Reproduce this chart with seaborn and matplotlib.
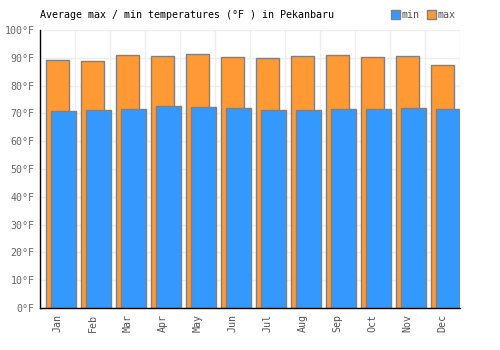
import matplotlib
matplotlib.use("Agg")
import matplotlib.pyplot as plt
import seaborn as sns
import pandas as pd
from matplotlib.patches import Patch

months = ["Jan", "Feb", "Mar", "Apr", "May", "Jun", "Jul", "Aug", "Sep", "Oct", "Nov", "Dec"]
max_temps = [89.1, 89.0, 91.0, 90.5, 91.2, 90.2, 89.8, 90.5, 91.0, 90.2, 90.5, 87.3]
min_temps = [70.9, 71.2, 71.6, 72.7, 72.3, 71.9, 71.2, 71.2, 71.5, 71.5, 71.8, 71.5]
y_ticks = [0, 10, 20, 30, 40, 50, 60, 70, 80, 90, 100]
y_labels = [f"{v}°F" for v in y_ticks]
title = "Average max / min temperatures (°F ) in Pekanbaru"

BLUE = "#3399FF"
ORANGE = "#FF9933"
EDGE = "#808080"
FONT = "DejaVu Sans Mono"

sns.set_style("white")
plt.rcParams["font.family"] = [FONT]

df = pd.DataFrame({"month": months, "max": max_temps, "min": min_temps})

fig = plt.figure(figsize=(5, 3.5), dpi=100)
ax = fig.add_axes([40 / 500, 42 / 350, 420 / 500, 278 / 350])

sns.barplot(data=df, x="month", y="max", color=ORANGE, saturation=1, width=0.666,
            edgecolor=EDGE, linewidth=1, ax=ax, zorder=2)
n_max = len(ax.patches)
sns.barplot(data=df, x="month", y="min", color=BLUE, saturation=1, width=0.706,
            edgecolor=EDGE, linewidth=1, ax=ax, zorder=3)
for p in ax.patches[n_max:]:
    p.set_x(p.get_x() + 0.167)

ax.set_xlim(-0.5, 11.5)
ax.set_ylim(0, 100)
ax.set_yticks(y_ticks)
ax.set_yticklabels(y_labels)
ax.set_xlabel("")
ax.set_ylabel("")

# grid lines at category boundaries and y ticks
for i in range(13):
    ax.axvline(i - 0.5, color="#eeeeee", lw=1, zorder=0)
for v in y_ticks:
    ax.axhline(v, color="#eeeeee", lw=1, zorder=0)

for s in ["top", "right"]:
    ax.spines[s].set_visible(False)
ax.spines["left"].set_color("black")
ax.spines["bottom"].set_color("black")
ax.spines["left"].set_linewidth(1)
ax.spines["bottom"].set_linewidth(1)
ax.spines["left"].set_zorder(5)
ax.spines["bottom"].set_zorder(5)

ax.tick_params(axis="both", length=0, labelsize=7.2, colors="#666666", pad=4)
ax.tick_params(axis="x", rotation=90, labelcolor="#555555")
for lab in ax.get_xticklabels():
    lab.set_fontfamily(FONT)
for lab in ax.get_yticklabels():
    lab.set_fontfamily(FONT)

fig.text(40 / 500, 1 - 15 / 350, title, fontsize=7.2, family=FONT, color="black",
         ha="left", va="center")

handles = [Patch(facecolor=BLUE, edgecolor=EDGE, label="min"),
           Patch(facecolor=ORANGE, edgecolor=EDGE, label="max")]
leg = fig.legend(handles=handles, loc="center left", bbox_to_anchor=(391 / 500, 1 - 15 / 350),
                 ncol=2, frameon=False, fontsize=7.2, handlelength=0.9, handleheight=0.9,
                 handletextpad=0.2, columnspacing=0.7, borderpad=0, borderaxespad=0)
for t in leg.get_texts():
    t.set_color("#555555")

fig.savefig("out.png", dpi=100)
